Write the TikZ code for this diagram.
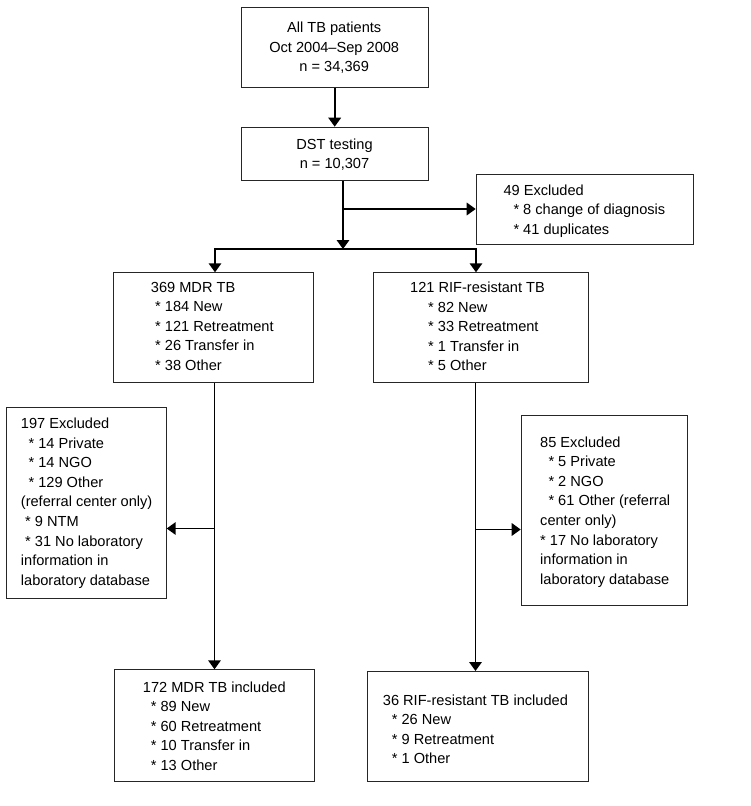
\documentclass[tikz,border=0pt]{standalone}
\usepackage{fontspec}
\setmainfont{Liberation Sans}
\usetikzlibrary{arrows.meta}
\begin{document}
\begin{tikzpicture}[x=1pt,y=-1pt,
  box/.style={draw=black!85,line width=1pt,rectangle,inner sep=0pt,anchor=north west},
  txt/.style={inner sep=0pt,font=\fontsize{14.6}{19.5}\selectfont,text=black},
  conn/.style={line width=1.8pt,black},
  arr/.style={conn,-{Triangle[length=9pt,width=12.5pt]}}]
\useasboundingbox (0,0) rectangle (750,806);
% boxes
\node[box,minimum width=187pt,minimum height=80.6pt] (top) at (240.7,6.7) {};
\node[box,minimum width=187pt,minimum height=53.3pt] (dst) at (240.7,126.7) {};
\node[box,minimum width=217pt,minimum height=70pt] (exa) at (475.7,174) {};
\node[box,minimum width=200pt,minimum height=110pt] (mdr) at (113.3,272.3) {};
\node[box,minimum width=215pt,minimum height=110pt] (rif) at (373.3,272.3) {};
\node[box,minimum width=160pt,minimum height=191.6pt] (exb) at (5.7,406.7) {};
\node[box,minimum width=166pt,minimum height=190pt] (exc) at (520.7,415) {};
\node[box,minimum width=200pt,minimum height=111.7pt] (mdrinc) at (114.3,669.3) {};
\node[box,minimum width=221pt,minimum height=110pt] (rifinc) at (367.3,671) {};
% texts
\node[txt,align=center,anchor=north] (ttop) at (334.2,22) {All TB patients\\Oct 2004--Sep 2008\\n = 34,369};
\node[txt,align=center,anchor=north] (tdst) at (334.5,138.7) {DST testing\\n = 10,307};
\node[txt,align=left,anchor=north west] (texa) at (503.3,184.7) {49 Excluded\\\hspace*{10pt}* 8 change of diagnosis\\\hspace*{10pt}* 41 duplicates};
\node[txt,align=left,anchor=north west] (tmdr) at (150.7,282) {369 MDR TB\\\hspace*{4.3pt}* 184 New\\\hspace*{4.3pt}* 121 Retreatment\\\hspace*{4.3pt}* 26 Transfer in\\\hspace*{4.3pt}* 38 Other};
\node[txt,align=left,anchor=north west] (trif) at (410,282) {121 RIF-resistant TB\\\hspace*{18pt}* 82 New\\\hspace*{18pt}* 33 Retreatment\\\hspace*{18pt}* 1 Transfer in\\\hspace*{18pt}* 5 Other};
\node[txt,align=left,anchor=north west,font=\fontsize{14.6}{19.6}\selectfont] (texb) at (20.7,417.8) {197 Excluded\\\hspace*{7.7pt}* 14 Private\\\hspace*{7.7pt}* 14 NGO\\\hspace*{7.7pt}* 129 Other\\(referral center only)\\\hspace*{4.3pt}* 9 NTM\\\hspace*{4.3pt}* 31 No laboratory\\information in\\laboratory database};
\node[txt,align=left,anchor=north west,font=\fontsize{14.6}{19.6}\selectfont] (texc) at (540,436.4) {85 Excluded\\\hspace*{8.3pt}* 5 Private\\\hspace*{8.3pt}* 2 NGO\\\hspace*{8.3pt}* 61 Other (referral\\center only)\\* 17 No laboratory\\information in\\laboratory database};
\node[txt,align=left,anchor=north west] (tmdrinc) at (142.7,681.4) {172 MDR TB included\\\hspace*{8pt}* 89 New\\\hspace*{8pt}* 60 Retreatment\\\hspace*{8pt}* 10 Transfer in\\\hspace*{8pt}* 13 Other};
\node[txt,align=left,anchor=north west] (trifinc) at (382.7,694.7) {36 RIF-resistant TB included\\\hspace*{9pt}* 26 New\\\hspace*{9pt}* 9 Retreatment\\\hspace*{9pt}* 1 Other};
% connector points
\coordinate (sa) at (343,209);
\coordinate (sb) at (343,249);
\coordinate (bl) at (215,249);
\coordinate (br) at (476,249);
\coordinate (ml) at (214.5,528.5);
\coordinate (mr) at (475.5,529.5);
% connectors
\draw[arr] (top.south) -- (dst.north);
\draw[conn] (dst.south -| sa) -- (sa);
\draw[arr] (sa) -- (exa.west |- sa);
\draw[arr] (sa) -- (sb);
\draw[conn,line cap=rect] (bl) -- (br);
\draw[arr] (bl) -- (bl |- mdr.north);
\draw[arr] (br) -- (br |- rif.north);
\draw[conn] (ml |- mdr.south) -- (ml);
\draw[arr] (ml) -- (ml |- mdrinc.north);
\draw[arr] (ml) -- (exb.east |- ml);
\draw[conn] (mr |- rif.south) -- (mr);
\draw[arr] (mr) -- (mr |- rifinc.north);
\draw[arr] (mr) -- (exc.west |- mr);
\end{tikzpicture}
\end{document}
